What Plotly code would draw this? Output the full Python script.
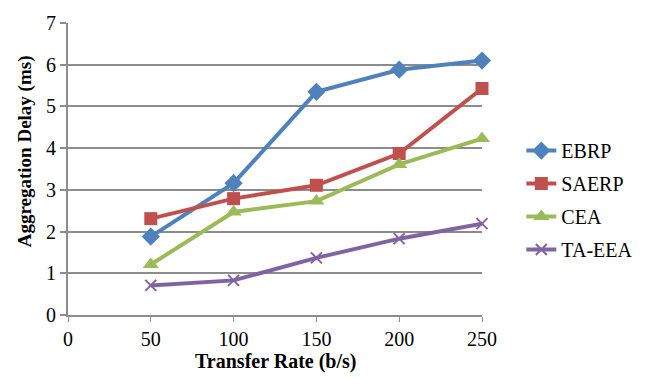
import plotly.graph_objects as go

# Transfer rate (b/s) on the x axis
rates = [50, 100, 150, 200, 250]

# Aggregation delay (ms) for each protocol
ebrp = [1.88, 3.16, 5.35, 5.88, 6.10]
saerp = [2.31, 2.79, 3.11, 3.87, 5.43]
cea = [1.21, 2.47, 2.73, 3.61, 4.23]
ta_eea = [0.71, 0.83, 1.37, 1.83, 2.19]

x_ticks = [0, 50, 100, 150, 200, 250]
y_ticks = [0, 1, 2, 3, 4, 5, 6, 7]

FONT = "Liberation Serif"
GRID = "#8c8c8c"

series = [
    ("EBRP", ebrp, "#4F81BD", "diamond", 14),
    ("SAERP", saerp, "#C0504D", "square", 13),
    ("CEA", cea, "#9BBB59", "triangle-up", 14),
    ("TA-EEA", ta_eea, "#8064A2", "x-thin", 11),
]

fig = go.Figure()
for name, vals, color, symbol, size in series:
    fig.add_trace(go.Scatter(
        x=rates, y=vals, name=name, mode="lines+markers",
        legendgroup=name,
        line=dict(color=color, width=4),
        marker=dict(symbol=symbol, size=size, color=color,
                    line=dict(color=color, width=2 if symbol == "x-thin" else 0)),
        cliponaxis=False,
    ))

fig.update_layout(
    width=651, height=378,
    margin=dict(l=68, r=169, t=21, b=63),
    paper_bgcolor="white", plot_bgcolor="white",
    font=dict(family=FONT, size=20, color="black"),
    showlegend=True,
    legend=dict(
        x=1.095, xanchor="left", y=0.63, yanchor="top",
        font=dict(family=FONT, size=20, color="black"),
        traceorder="grouped", tracegroupgap=4,
        itemwidth=30, bgcolor="rgba(0,0,0,0)",
    ),
    annotations=[
        dict(text="<b>Aggregation Delay (ms)</b>", textangle=-90,
             xref="paper", yref="paper", x=-0.102, y=0.56,
             xanchor="center", yanchor="middle", showarrow=False,
             font=dict(family=FONT, size=19)),
        dict(text="<b>Transfer Rate (b/s)</b>",
             xref="paper", yref="paper", x=0.5, y=-0.159,
             xanchor="center", yanchor="middle", showarrow=False,
             font=dict(family=FONT, size=20)),
    ],
)

fig.update_xaxes(
    range=[0, 250], tickvals=x_ticks, ticktext=[str(v) for v in x_ticks],
    showgrid=False, zeroline=False,
    showline=True, linecolor=GRID, linewidth=2,
    ticks="outside", ticklen=5, tickcolor=GRID, tickwidth=1,
    tickfont=dict(family=FONT, size=20),
)
fig.update_yaxes(
    range=[0, 7], tickvals=y_ticks, ticktext=[str(v) for v in y_ticks],
    showgrid=True, gridcolor=GRID, gridwidth=1.5, zeroline=False,
    showline=True, linecolor=GRID, linewidth=2,
    ticks="outside", ticklen=6, tickcolor=GRID, tickwidth=1.5,
    tickfont=dict(family=FONT, size=20),
)

fig.write_html("out.html")
